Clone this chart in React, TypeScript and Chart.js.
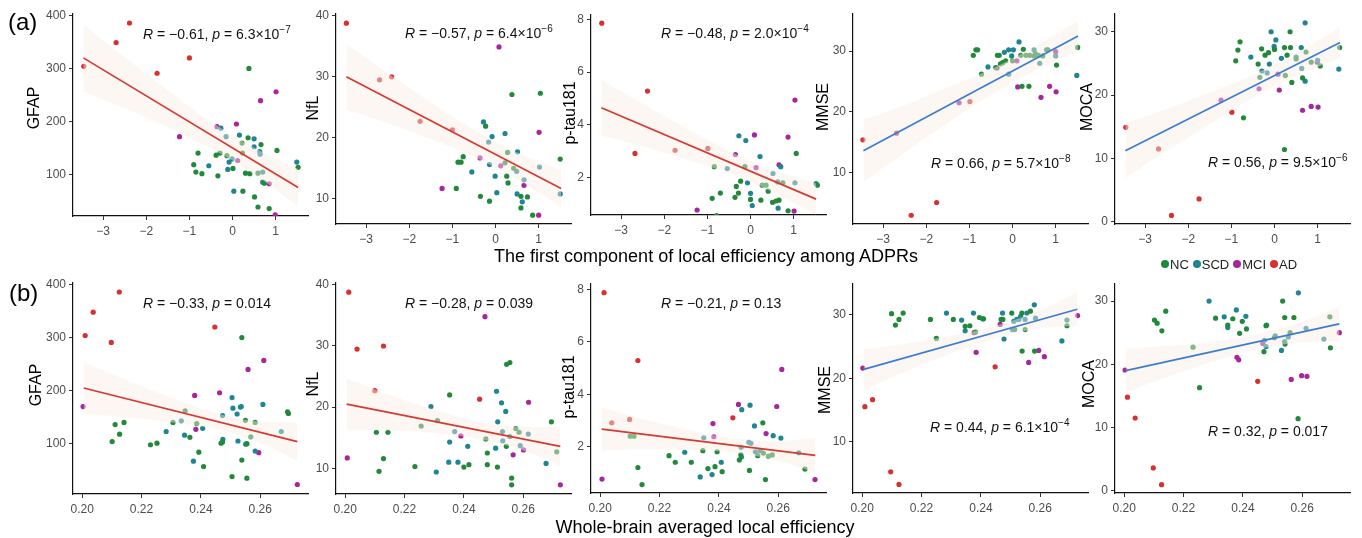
import React, { useEffect, useRef } from 'react';
import { Chart, registerables } from 'chart.js';
Chart.register(...registerables);

// ---------------- DATA ----------------
const groups = ['NC', 'SCD', 'MCI', 'AD'];

const xTicksA = [-3, -2, -1, 0, 1];
const xTickLabelsA = ['−3', '−2', '−1', '0', '1'];
const xTicksB = [0.2, 0.22, 0.24, 0.26];
const xTickLabelsB = ['0.20', '0.22', '0.24', '0.26'];

const yTicksGFAP = [100, 200, 300, 400];
const yTicksNfL = [10, 20, 30, 40];
const yTicksPtau = [2, 4, 6, 8];
const yTicksMMSE = [10, 20, 30];
const yTicksMOCA = [0, 10, 20, 30];

const measures = ['GFAP', 'NfL', 'p-tau181', 'MMSE', 'MOCA'];
const xTitleA = 'The first component of local efficiency among ADPRs';
const xTitleB = 'Whole-brain averaged local efficiency';

// correlation labels
const rA = ['−0.61', '−0.57', '−0.48', '0.66', '0.56'];
const pA = ['6.3', '6.4', '2.0', '5.7', '9.5'];
const expA = ['−7', '−6', '−4', '−8', '−6'];
const rB = ['−0.33', '−0.28', '−0.21', '0.44', '0.32'];
const pB = ['0.014', '0.039', '0.13', '6.1', '0.017'];
const expB = ['', '', '', '−4', ''];

// Row (a) points
const a1_NC = [[-0.8,140],[-0.9,118],[-0.85,104],[-0.71,101],[-0.38,136],[-0.34,97],[-0.29,140],[-0.13,135],[0.01,111],[0.22,159],[0.24,68],[0.3,102],[0.36,169],[0.4,101],[0.51,57],[0.59,38],[0.66,156],[0.74,83],[0.85,35],[0.38,300],[1.03,145],[1.52,113],[0.23,140],[0.59,102]];
const a1_SCD = [[-0.27,187],[-0.55,116],[-0.11,109],[-0.08,123],[-0.01,129],[0.03,68],[0.16,174],[0.5,167],[0.5,152],[0.63,143],[0.64,138],[0.7,85],[1.49,123],[-0.15,171],[0.7,104]];
const a1_MCI = [[-1.23,171],[-0.36,190],[0.09,195],[0.12,126],[0.65,239],[1.01,256],[0.85,82],[0.99,23]];
const a1_AD = [[-3.45,304],[-2.7,349],[-2.39,386],[-1.75,291],[-1.0,320]];

const a2_NC = [[-0.75,16.9],[-0.87,16.0],[-0.8,16.0],[-0.91,11.7],[-0.35,10.4],[-0.23,21.9],[-0.14,9.6],[0.28,17.6],[0.26,13.7],[0.29,12.6],[0.38,27.1],[0.42,15.0],[0.59,10.4],[0.59,8.5],[0.74,10.3],[0.86,7.3],[1.04,27.3],[0.22,15.9],[1.5,16.5]];
const a2_SCD = [[-0.28,22.6],[-0.55,14.4],[-0.16,19.3],[-0.08,20.2],[-0.01,13.7],[0.03,11.0],[0.22,20.7],[0.51,17.7],[0.5,10.8],[0.62,9.5],[1.02,15.2],[-0.14,15.6],[0.49,14.5],[0.66,13.1],[1.5,10.8]];
const a2_MCI = [[-1.24,11.7],[0.08,34.9],[-0.36,16.7],[0.12,15.4],[0.66,12.2],[1.01,20.9],[1.0,7.3]];
const a2_AD = [[-3.46,38.8],[-2.41,30.0],[-2.69,29.5],[-1.75,22.7],[-1.0,21.3]];

const a3_NC = [[-0.84,2.42],[-0.89,1.22],[-0.79,0.57],[-0.7,1.42],[-0.36,1.26],[-0.33,1.67],[-0.28,1.42],[-0.23,1.87],[-0.13,2.42],[0.0,1.18],[0.24,1.15],[0.27,1.72],[0.41,1.49],[0.36,1.72],[0.51,1.07],[0.59,1.12],[0.66,1.15],[0.75,1.81],[0.87,0.75],[1.06,2.92],[1.55,1.72]];
const a3_SCD = [[-0.27,3.59],[-0.11,3.41],[-0.54,2.35],[-0.07,1.81],[0.0,1.41],[0.04,0.95],[0.22,2.8],[0.7,2.42],[0.63,1.84],[0.64,0.85],[0.52,2.16],[1.03,1.81],[1.52,1.78]];
const a3_MCI = [[-1.24,0.78],[-0.35,2.88],[0.09,3.62],[0.13,2.38],[0.66,2.49],[0.87,3.54],[1.03,4.94],[1.01,0.74]];
const a3_AD = [[-3.45,7.85],[-2.39,5.28],[-2.68,2.92],[-1.75,3.04],[-0.99,3.11]];

const a4_NC = [[-0.91,29.3],[-0.85,30.2],[-0.81,30.2],[-0.72,26.2],[-0.39,27.3],[-0.35,29.3],[-0.31,29.3],[-0.28,27.9],[-0.23,28.1],[-0.16,28.4],[0.0,28.4],[0.19,29.3],[0.22,24.2],[0.38,24.2],[0.25,30.3],[0.31,29.3],[0.4,29.3],[0.5,29.2],[0.7,29.2],[1.02,27.7],[1.51,30.6],[0.53,29.6],[0.6,29.3],[0.82,30.2]];
const a4_SCD = [[-0.57,27.4],[-0.19,29.8],[-0.09,30.2],[0.02,30.2],[-0.02,29.2],[0.15,31.5],[0.5,30.2],[0.63,28.0],[1.49,26.0],[0.79,30.2],[1.0,29.2],[-0.09,26.2]];
const a4_MCI = [[-1.24,21.5],[-0.36,27.2],[0.1,28.4],[0.12,24.1],[0.66,22.4],[0.86,24.2],[1.01,23.3],[1.0,29.9]];
const a4_AD = [[-3.47,15.4],[-2.35,3.0],[-1.76,5.1],[-2.69,16.5],[-0.99,21.7]];

const a5_NC = [[-0.9,25.4],[-0.85,27.1],[-0.8,28.4],[-0.72,16.4],[-0.38,24.9],[-0.3,27.3],[-0.22,26.3],[-0.14,26.7],[0.0,27.2],[0.23,27.5],[0.23,11.4],[0.29,26.3],[0.36,30.0],[0.37,27.5],[0.4,22.0],[0.65,22.7],[1.06,24.6],[1.51,27.5],[-0.34,22.8],[0.25,23.1],[0.5,25.7],[0.73,26.8],[0.85,25.2]];
const a5_SCD = [[-0.55,26.0],[-0.29,23.8],[-0.12,24.9],[-0.08,30.0],[-0.01,27.7],[0.03,28.7],[0.16,25.8],[0.62,27.5],[0.71,31.4],[0.71,22.2],[1.49,24.1],[-0.17,23.5],[0.5,26.0],[0.63,24.2],[1.0,25.5]];
const a5_MCI = [[-1.24,19.2],[-0.36,21.0],[0.11,20.8],[0.08,23.3],[0.65,17.6],[0.85,18.2],[1.01,18.1],[0.99,25.2]];
const a5_AD = [[-3.45,14.9],[-2.39,1.0],[-1.75,3.6],[-0.99,17.3],[-2.69,11.5]];

// Row (b) points
const b1_NC = [[0.2101,104],[0.2111,136],[0.2126,118],[0.2141,140],[0.223,98],[0.2252,101],[0.2306,140],[0.2347,162],[0.2363,112],[0.2386,138],[0.2393,84],[0.2409,57],[0.2468,101],[0.2473,103],[0.2505,38],[0.2538,300],[0.2538,69],[0.2555,100],[0.2555,35],[0.255,144],[0.2568,113],[0.2583,140],[0.2692,160],[0.2695,157]];
const b1_SCD = [[0.2283,123],[0.2345,116],[0.2334,143],[0.2375,67],[0.2406,129],[0.2474,108],[0.2505,187],[0.2508,167],[0.2522,156],[0.2525,105],[0.2533,169],[0.2536,170],[0.2551,99],[0.2583,86],[0.2609,174],[0.2671,123],[0.2473,153]];
const b1_MCI = [[0.2003,170],[0.2379,191],[0.2463,196],[0.2383,127],[0.2559,240],[0.2612,257],[0.2595,83],[0.2725,23]];
const b1_AD = [[0.201,304],[0.2037,348],[0.2098,291],[0.2125,386],[0.2447,320]];

const b2_NC = [[0.2105,15.9],[0.2129,11.6],[0.2144,15.9],[0.2114,9.5],[0.2235,10.3],[0.2352,22.0],[0.24,10.2],[0.2417,10.6],[0.2479,12.5],[0.2479,10.6],[0.2513,10.2],[0.2544,27.0],[0.2555,27.3],[0.2561,8.4],[0.2561,7.3],[0.2695,17.6],[0.2256,16.9],[0.2311,17.8],[0.2474,14.8],[0.2543,13.6],[0.2575,16.5],[0.2586,15.9],[0.2713,12.7]];
const b2_SCD = [[0.2289,20.1],[0.2352,14.3],[0.2349,11.0],[0.2307,9.4],[0.238,11.0],[0.2413,13.6],[0.251,22.6],[0.2507,13.3],[0.2514,17.6],[0.2527,20.7],[0.2541,19.3],[0.253,16.0],[0.259,13.7],[0.2617,15.6],[0.2677,10.8],[0.2369,16.0],[0.2531,14.5],[0.2555,15.2]];
const b2_MCI = [[0.2007,11.7],[0.2471,34.8],[0.239,15.3],[0.2566,12.2],[0.2601,13.0],[0.2618,20.8],[0.2725,7.3]];
const b2_AD = [[0.2012,38.8],[0.204,29.5],[0.2129,30.0],[0.2453,21.3],[0.21,22.7]];

const b3_NC = [[0.2232,1.67],[0.2253,1.42],[0.2307,1.42],[0.2363,1.18],[0.2387,1.25],[0.2411,1.06],[0.2127,1.22],[0.2141,0.57],[0.2469,1.51],[0.2503,1.11],[0.2548,2.92],[0.2557,0.76],[0.269,1.16],[0.2101,2.41],[0.2114,2.41],[0.2346,1.86],[0.2394,1.82],[0.2474,1.7],[0.2531,1.67],[0.255,1.77],[0.2567,1.65],[0.258,1.7]];
const b3_SCD = [[0.2285,1.8],[0.2337,0.86],[0.2377,0.95],[0.2408,1.42],[0.2475,1.99],[0.2476,1.62],[0.2477,3.42],[0.2505,3.59],[0.252,2.8],[0.2583,2.43],[0.2609,2.34],[0.2501,2.18],[0.2508,2.14],[0.2349,2.35],[0.2523,1.82],[0.2539,1.86],[0.2669,1.78]];
const b3_MCI = [[0.2006,0.78],[0.238,2.89],[0.2383,2.39],[0.2466,3.62],[0.2559,2.51],[0.2595,3.54],[0.2612,4.95],[0.2724,0.76]];
const b3_AD = [[0.2013,7.87],[0.2127,5.29],[0.2447,3.11],[0.2039,2.92],[0.2099,3.05]];

const b4_NC = [[0.2099,30.2],[0.2112,28.4],[0.2124,29.3],[0.2138,30.3],[0.223,29.3],[0.2307,29.3],[0.2347,28.2],[0.2363,28.3],[0.2395,29.6],[0.2409,29.4],[0.2468,29.3],[0.2474,29.3],[0.2504,30.3],[0.2538,30.3],[0.2539,24.3],[0.2567,30.6],[0.2581,24.3],[0.269,28.3],[0.225,26.3],[0.2382,27.3],[0.2514,27.7],[0.2549,27.7]];
const b4_SCD = [[0.2284,30.3],[0.2335,29.2],[0.2347,27.5],[0.2375,30.3],[0.2406,29.4],[0.2473,30.3],[0.2478,26.2],[0.258,31.6],[0.2673,25.9],[0.2506,27.7],[0.2511,29.0],[0.2521,29.3],[0.2528,29.3],[0.2534,29.8],[0.2549,29.3],[0.2555,30.3],[0.2584,29.5],[0.269,29.2]];
const b4_MCI = [[0.2002,21.6],[0.2384,24.1],[0.2377,27.2],[0.2465,28.5],[0.2561,22.5],[0.2595,24.4],[0.2614,23.4],[0.2726,29.9]];
const b4_AD = [[0.2009,15.5],[0.2035,16.6],[0.2096,5.2],[0.2124,3.2],[0.2448,21.8]];

const b5_NC = [[0.2102,27.0],[0.2111,26.5],[0.2127,25.3],[0.214,28.4],[0.2254,16.3],[0.2308,27.3],[0.2349,26.2],[0.2366,27.2],[0.2389,24.9],[0.2398,26.8],[0.2412,25.6],[0.2471,22.0],[0.2478,26.1],[0.2534,30.0],[0.2541,27.4],[0.2572,27.4],[0.2586,11.4],[0.2695,22.6],[0.2232,22.7],[0.2506,24.2],[0.2542,23.2],[0.2559,25.0],[0.2693,27.5]];
const b5_SCD = [[0.2286,30.0],[0.2337,27.5],[0.2349,25.8],[0.2378,28.6],[0.241,27.6],[0.248,26.2],[0.253,22.2],[0.2587,31.3],[0.2673,24.0],[0.2473,23.8],[0.2509,24.5],[0.2541,23.6],[0.2553,24.3],[0.2613,25.7],[0.2478,22.8]];
const b5_MCI = [[0.2003,19.1],[0.238,21.1],[0.2386,20.7],[0.2467,23.3],[0.2563,17.6],[0.2598,18.2],[0.2616,18.1],[0.2725,25.0]];
const b5_AD = [[0.2011,14.8],[0.2037,11.5],[0.2098,3.6],[0.2126,0.95],[0.245,17.3]];

// Regression fit lines (endpoints) and confidence band
const fitXA = [-3.46, 1.52];
const fitXB = [0.2005, 0.2725];
const bandXA = [-3.46, -2.5, -1.5, -0.5, 0.5, 1.52];
const bandXB = [0.2005, 0.215, 0.23, 0.245, 0.26, 0.2725];

const a1_fit = [320, 75];
const a1_upper = [383, 321, 259, 199, 150, 110];
const a1_lower = [257, 225, 189, 149, 100, 40];
const a2_fit = [30, 11.7];
const a2_upper = [35.4, 30.6, 25.8, 21.3, 17.6, 14.7];
const a2_lower = [24.6, 22.4, 19.8, 16.9, 13.2, 8.7];
const a3_fit = [4.65, 1.19];
const a3_upper = [5.7, 4.79, 3.88, 3.01, 2.31, 1.78];
const a3_lower = [3.6, 3.19, 2.7, 2.17, 1.47, 0.6];
const a4_fit = [13.6, 32.5];
const a4_upper = [18.7, 21.1, 24.0, 27.0, 30.7, 34.9];
const a4_lower = [8.5, 13.3, 18.2, 22.8, 26.7, 30.1];
const a5_fit = [11.2, 28.3];
const a5_upper = [15.5, 17.8, 20.4, 23.2, 26.6, 30.7];
const a5_lower = [6.9, 11.2, 15.4, 19.6, 23.0, 25.9];

const b1_fit = [205, 104];
const b1_upper = [254, 219.7, 186.6, 157.6, 141.6, 140];
const b1_lower = [156, 149.7, 140.6, 127.6, 101.6, 68];
const b2_fit = [20.5, 13.6];
const b2_upper = [24.7, 22.0, 19.6, 17.6, 16.7, 16.8];
const b2_lower = [16.3, 16.2, 15.8, 14.8, 12.9, 10.4];
const b3_fit = [2.68, 1.68];
const b3_upper = [3.5, 3.05, 2.65, 2.33, 2.23, 2.33];
const b3_lower = [1.86, 1.91, 1.89, 1.79, 1.47, 1.03];
const b4_fit = [21.4, 30.9];
const b4_upper = [24.6, 25.5, 26.7, 28.3, 30.7, 33.5];
const b4_lower = [18.2, 21.1, 23.9, 26.3, 27.9, 28.3];
const b5_fit = [19.0, 26.4];
const b5_upper = [22.5, 22.9, 23.6, 24.8, 26.7, 29.15];
const b5_lower = [15.5, 18.1, 20.4, 22.4, 23.5, 23.65];

// ---------------- STYLE / LAYOUT ----------------
const FONT = '"Liberation Sans", Arial, Helvetica, sans-serif';
const groupColors = ['#23893a', '#1f8590', '#a8269b', '#d8302f'];
const RED_LINE = '#d63a2f';
const BLUE_LINE = '#3c7dd2';
const BAND = 'rgba(250, 238, 230, 0.45)';

const YW = 70, XH = 30, PT = 12, PR = 12, PW = 235;

type PanelDef = {
  key: string;
  axisX: number; top: number; bottom: number;
  xmin: number; xmax: number; ymin: number; ymax: number;
  xTicks: number[]; xLabels: string[]; yTicks: number[];
  points: number[][][];
  fitX: number[]; fit: number[];
  bandX: number[]; upper: number[]; lower: number[];
  lineColor: string;
};

const panels: PanelDef[] = [
  { key: 'a1', axisX: 73, top: 14, bottom: 216, xmin: -3.7, xmax: 1.75, ymin: 21, ymax: 403, xTicks: xTicksA, xLabels: xTickLabelsA, yTicks: yTicksGFAP, points: [a1_NC, a1_SCD, a1_MCI, a1_AD], fitX: fitXA, fit: a1_fit, bandX: bandXA, upper: a1_upper, lower: a1_lower, lineColor: RED_LINE },
  { key: 'a2', axisX: 336, top: 14, bottom: 224, xmin: -3.7, xmax: 1.75, ymin: 5.86, ymax: 40.3, xTicks: xTicksA, xLabels: xTickLabelsA, yTicks: yTicksNfL, points: [a2_NC, a2_SCD, a2_MCI, a2_AD], fitX: fitXA, fit: a2_fit, bandX: bandXA, upper: a2_upper, lower: a2_lower, lineColor: RED_LINE },
  { key: 'a3', axisX: 591, top: 15, bottom: 215, xmin: -3.7, xmax: 1.75, ymin: 0.59, ymax: 8.16, xTicks: xTicksA, xLabels: xTickLabelsA, yTicks: yTicksPtau, points: [a3_NC, a3_SCD, a3_MCI, a3_AD], fitX: fitXA, fit: a3_fit, bandX: bandXA, upper: a3_upper, lower: a3_lower, lineColor: RED_LINE },
  { key: 'a4', axisX: 853, top: 14, bottom: 224, xmin: -3.7, xmax: 1.75, ymin: 1.56, ymax: 36.1, xTicks: xTicksA, xLabels: xTickLabelsA, yTicks: yTicksMMSE, points: [a4_NC, a4_SCD, a4_MCI, a4_AD], fitX: fitXA, fit: a4_fit, bandX: bandXA, upper: a4_upper, lower: a4_lower, lineColor: BLUE_LINE },
  { key: 'a5', axisX: 1115, top: 14, bottom: 224, xmin: -3.7, xmax: 1.75, ymin: -0.36, ymax: 32.8, xTicks: xTicksA, xLabels: xTickLabelsA, yTicks: yTicksMOCA, points: [a5_NC, a5_SCD, a5_MCI, a5_AD], fitX: fitXA, fit: a5_fit, bandX: bandXA, upper: a5_upper, lower: a5_lower, lineColor: BLUE_LINE },
  { key: 'b1', axisX: 73, top: 283, bottom: 494, xmin: 0.1969, xmax: 0.2761, ymin: 5.1, ymax: 403, xTicks: xTicksB, xLabels: xTickLabelsB, yTicks: yTicksGFAP, points: [b1_NC, b1_SCD, b1_MCI, b1_AD], fitX: fitXB, fit: b1_fit, bandX: bandXB, upper: b1_upper, lower: b1_lower, lineColor: RED_LINE },
  { key: 'b2', axisX: 336, top: 283, bottom: 494, xmin: 0.1969, xmax: 0.2761, ymin: 5.8, ymax: 40.3, xTicks: xTicksB, xLabels: xTickLabelsB, yTicks: yTicksNfL, points: [b2_NC, b2_SCD, b2_MCI, b2_AD], fitX: fitXB, fit: b2_fit, bandX: bandXB, upper: b2_upper, lower: b2_lower, lineColor: RED_LINE },
  { key: 'b3', axisX: 591, top: 284, bottom: 493, xmin: 0.1969, xmax: 0.2761, ymin: 0.25, ymax: 8.2, xTicks: xTicksB, xLabels: xTickLabelsB, yTicks: yTicksPtau, points: [b3_NC, b3_SCD, b3_MCI, b3_AD], fitX: fitXB, fit: b3_fit, bandX: bandXB, upper: b3_upper, lower: b3_lower, lineColor: RED_LINE },
  { key: 'b4', axisX: 853, top: 284, bottom: 493, xmin: 0.1969, xmax: 0.2761, ymin: 1.85, ymax: 34.9, xTicks: xTicksB, xLabels: xTickLabelsB, yTicks: yTicksMMSE, points: [b4_NC, b4_SCD, b4_MCI, b4_AD], fitX: fitXB, fit: b4_fit, bandX: bandXB, upper: b4_upper, lower: b4_lower, lineColor: BLUE_LINE },
  { key: 'b5', axisX: 1115, top: 284, bottom: 493, xmin: 0.1969, xmax: 0.2761, ymin: -0.36, ymax: 32.7, xTicks: xTicksB, xLabels: xTickLabelsB, yTicks: yTicksMOCA, points: [b5_NC, b5_SCD, b5_MCI, b5_AD], fitX: fitXB, fit: b5_fit, bandX: bandXB, upper: b5_upper, lower: b5_lower, lineColor: BLUE_LINE },
];

// y-axis title centres and stat label positions
const yTitlePos = [[34, 108], [313, 108], [570, 113], [823, 107], [1087, 107], [36, 385], [313, 384], [569, 387], [825, 390], [1089, 384]];
const statPos = [[143, 34], [405, 33], [661, 33], [931, 163], [1208, 162], [143, 303], [405, 303], [661, 303], [930, 427], [1208, 431]];

function Panel({ p }: { p: PanelDef }) {
  const ref = useRef<HTMLCanvasElement>(null);
  const W = YW + PW + PR;
  const H = PT + (p.bottom - p.top) + XH;
  useEffect(() => {
    const canvas = ref.current;
    if (!canvas) return;
    const tickFont = { family: FONT, size: 12 };
    const datasets: any[] = groups.map((g, gi) => ({
      type: 'scatter',
      label: g,
      data: p.points[gi].map(([x, y]) => ({ x, y })),
      backgroundColor: groupColors[gi],
      borderWidth: 0,
      pointRadius: 2.6,
      order: 3,
    }));
    datasets.push({
      type: 'line', label: 'upper',
      data: p.bandX.map((x, i) => ({ x, y: p.upper[i] })),
      borderColor: 'rgba(0,0,0,0)', borderWidth: 1, pointRadius: 0, fill: false,
      cubicInterpolationMode: 'monotone', order: 2,
    });
    datasets.push({
      type: 'line', label: 'lower',
      data: p.bandX.map((x, i) => ({ x, y: p.lower[i] })),
      borderColor: 'rgba(0,0,0,0)', borderWidth: 1, pointRadius: 0, fill: '-1',
      backgroundColor: BAND, cubicInterpolationMode: 'monotone', order: 1,
    });
    datasets.push({
      type: 'line', label: 'fit',
      data: p.fitX.map((x, i) => ({ x, y: p.fit[i] })),
      borderColor: p.lineColor, borderWidth: 1.7, pointRadius: 0, fill: false, order: 0,
    });
    const chart = new Chart(canvas, {
      type: 'scatter',
      data: { datasets },
      options: {
        animation: false,
        responsive: false,
        devicePixelRatio: 1,
        events: [],
        layout: { padding: { top: PT, right: PR, left: 0, bottom: 0 } },
        plugins: { legend: { display: false }, tooltip: { enabled: false } },
        scales: {
          x: {
            type: 'linear', min: p.xmin, max: p.xmax, bounds: 'data',
            afterBuildTicks: (s: any) => { s.ticks = p.xTicks.map((v) => ({ value: v })); },
            afterFit: (s: any) => { s.height = XH; },
            grid: { display: true, drawOnChartArea: false, drawTicks: true, tickLength: 4, color: '#333', lineWidth: 1 },
            border: { display: true, color: '#111', width: 1.2 },
            ticks: { autoSkip: false, maxRotation: 0, padding: 4, color: '#4d4d4d', font: tickFont, callback: (_v: any, i: number) => p.xLabels[i] },
          },
          y: {
            type: 'linear', min: p.ymin, max: p.ymax, bounds: 'data',
            afterBuildTicks: (s: any) => { s.ticks = p.yTicks.map((v) => ({ value: v })); },
            afterFit: (s: any) => { s.width = YW; },
            grid: { display: true, drawOnChartArea: false, drawTicks: true, tickLength: 4, color: '#333', lineWidth: 1 },
            border: { display: true, color: '#111', width: 1.2 },
            ticks: { autoSkip: false, padding: 3, color: '#4d4d4d', font: tickFont, callback: (v: any) => String(v) },
          },
        },
      } as any,
    });
    return () => chart.destroy();
  }, []);
  return (
    <canvas
      ref={ref}
      width={W}
      height={H}
      style={{ position: 'absolute', left: p.axisX - YW, top: p.top - PT, width: W, height: H }}
    />
  );
}

function Stat({ x, y, r, pv, ex }: { x: number; y: number; r: string; pv: string; ex: string }) {
  return (
    <div style={{ position: 'absolute', left: x, top: y - 9, fontSize: 14, lineHeight: '18px', whiteSpace: 'nowrap', color: '#111' }}>
      <i>R</i> = {r}, <i>p</i> = {pv}
      {ex ? (
        <>
          ×10<span style={{ fontSize: 10, position: 'relative', top: -6 }}>{ex}</span>
        </>
      ) : null}
    </div>
  );
}

export default function App() {
  const legendItems = groups.map((g, i) => (
    <span key={g} style={{ display: 'inline-flex', alignItems: 'center', marginRight: 4 }}>
      <span style={{ display: 'inline-block', width: 8, height: 8, borderRadius: 4, background: groupColors[i], marginRight: 1 }} />
      <span>{g}</span>
    </span>
  ));
  return (
    <div style={{ position: 'absolute', left: 0, top: 0, width: 1362, height: 538, background: '#fff', fontFamily: FONT, overflow: 'hidden' }}>
      {panels.map((p) => (
        <Panel key={p.key} p={p} />
      ))}
      {panels.map((p, i) => (
        <div
          key={'t' + p.key}
          style={{ position: 'absolute', left: yTitlePos[i][0], top: yTitlePos[i][1], transform: 'translate(-50%, -50%) rotate(-90deg)', fontSize: 16, lineHeight: '18px', whiteSpace: 'nowrap', color: '#000' }}
        >
          {measures[i % 5]}
        </div>
      ))}
      {panels.map((p, i) => {
        const row = i < 5 ? 0 : 1;
        const j = i % 5;
        return (
          <Stat key={'s' + p.key} x={statPos[i][0]} y={statPos[i][1]} r={row === 0 ? rA[j] : rB[j]} pv={row === 0 ? pA[j] : pB[j]} ex={row === 0 ? expA[j] : expB[j]} />
        );
      })}
      <div style={{ position: 'absolute', left: 706, top: 256, transform: 'translate(-50%, -50%)', fontSize: 18, whiteSpace: 'nowrap', color: '#000' }}>{xTitleA}</div>
      <div style={{ position: 'absolute', left: 705, top: 527, transform: 'translate(-50%, -50%)', fontSize: 18, whiteSpace: 'nowrap', color: '#000' }}>{xTitleB}</div>
      <div style={{ position: 'absolute', left: 8, top: 7, fontSize: 24, lineHeight: '30px', color: '#000' }}>(a)</div>
      <div style={{ position: 'absolute', left: 9, top: 278, fontSize: 24, lineHeight: '30px', color: '#000' }}>(b)</div>
      <div style={{ position: 'absolute', left: 1161, top: 256, height: 16, display: 'flex', alignItems: 'center', fontSize: 13, color: '#222' }}>
        {legendItems}
      </div>
    </div>
  );
}
